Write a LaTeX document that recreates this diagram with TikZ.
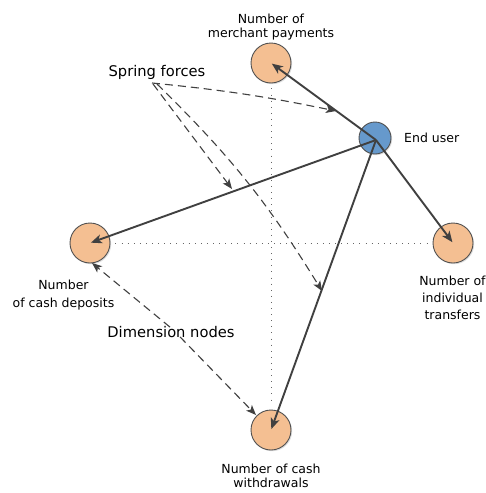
\documentclass[tikz,border=0pt]{standalone}
\usepackage{fontspec}
\setmainfont{DejaVu Sans}
\usetikzlibrary{arrows.meta,shadows}
\definecolor{peach}{HTML}{F4BF92}
\definecolor{eublue}{HTML}{6699CC}
\definecolor{edge}{HTML}{505050}
\definecolor{arrowc}{HTML}{404040}
\begin{document}
\begin{tikzpicture}[x=1pt,y=-1pt,
  dimnode/.style={circle,draw=edge,line width=0.9pt,fill=peach,minimum size=40pt,inner sep=0pt,
    drop shadow={opacity=0.25,shadow xshift=1.2pt,shadow yshift=-1.2pt}},
  usernode/.style={circle,draw=edge,line width=0.9pt,fill=eublue,minimum size=32pt,inner sep=0pt,
    drop shadow={opacity=0.25,shadow xshift=1.2pt,shadow yshift=-1.2pt}},
  lbl/.style={font=\fontsize{12.5}{14}\selectfont,align=center,inner sep=0pt,text=black,anchor=north},
  widelbl/.style={lbl,font=\fontsize{12.5}{17.3}\selectfont},
  biglbl/.style={font=\fontsize{14.7}{17}\selectfont,inner sep=0pt,text=black},
  force/.style={draw=arrowc,line width=1.9pt,-{Stealth[length=11pt,width=9pt,inset=3pt]},shorten >=1pt},
  note/.style={draw=arrowc,line width=1.1pt,dash pattern=on 8pt off 5pt,-{Stealth[length=10pt,width=8pt,inset=2.5pt]}},
  axis/.style={draw=gray!80!black,line width=0.9pt,dash pattern=on 0.9pt off 5.2pt}
]
\useasboundingbox (0,0) rectangle (486,493);
% nodes
\node[dimnode] (mp) at (271,63) {};
\node[dimnode] (cd) at (90,243) {};
\node[dimnode] (it) at (453,243) {};
\node[dimnode] (cw) at (271,430) {};
% axes
\path (mp.south) ++(0,5) coordinate (vt);
\path (cw.north) ++(0,-4) coordinate (vb);
\path (cd.east) ++(5,0) coordinate (hl);
\path (it.west) ++(-1,0) coordinate (hr);
\draw[axis] (hl) -- (hr);
\draw[axis] (vt) -- (vb);
\node[usernode] (eu) at (375,138) {};
% labels
\node[lbl] (mpl) at (271,13.5) {Number of\\merchant payments};
\node[lbl,anchor=west] (eul) at (404,138) {End user};
\node[widelbl] (cdl) at (63.5,280) {Number\\of cash deposits};
\node[widelbl] (itl) at (452.5,275.5) {Number of\\individual\\transfers};
\node[lbl] (cwl) at (271,463.5) {Number of cash\\withdrawals};
\node[biglbl] (sf) at (157,72) {Spring forces};
\node[biglbl] (dn) at (171,332) {Dimension nodes};
% spring forces
\coordinate (eup) at (376,140);
\draw[force] (eup) -- (mp.center);
\draw[force] (eup) -- (cd.center);
\draw[force] (eup) -- (it.center);
\draw[force] (eup) -- (cw.center);
% annotation arrows
\coordinate (s0) at (152,83);
\coordinate (s1) at (153,84);
\coordinate (s2) at (157,84);
\coordinate (t0) at (336,111);
\coordinate (t1) at (232,189);
\coordinate (t2) at (322,291);
\draw[note] (s0) to[bend left=3] (t0);
\draw[note] (s1) -- (t1);
\draw[note] (s2) to[bend left=7] (t2);
\coordinate (d0) at (92,263);
\coordinate (d1) at (256,415);
\draw[note] ([xshift=-1pt,yshift=-1pt]dn.north) -- (d0);
\draw[note] ([xshift=9pt,yshift=1pt]dn.south) -- (d1);
\end{tikzpicture}
\end{document}
